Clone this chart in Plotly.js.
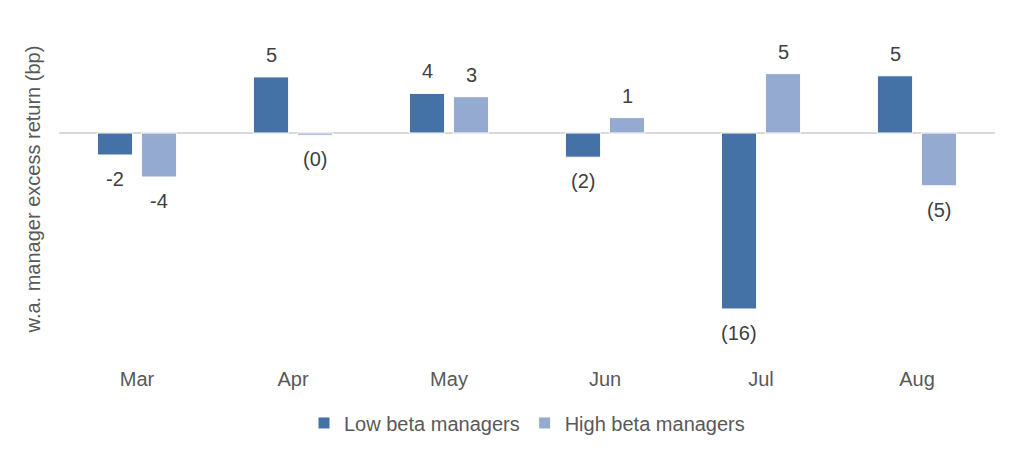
<!DOCTYPE html>
<html>
<head>
<meta charset="utf-8">
<script src="https://cdn.plot.ly/plotly-3.0.1.min.js"></script>
<style>html,body{margin:0;padding:0;background:#fff;}#chart{width:1024px;height:460px;}</style>
</head>
<body>
<div id="chart"></div>
<script>
const categories = ["Mar", "Apr", "May", "Jun", "Jul", "Aug"];
const lowBeta = [-2.0, 5.1, 3.6, -2.2, -16.0, 5.2];
const highBeta = [-4.0, -0.2, 3.3, 1.4, 5.4, -4.8];
const lowLabels = ["-2", "5", "4", "(2)", "(16)", "5"];
const highLabels = ["-4", "(0)", "3", "1", "5", "(5)"];
const seriesNames = ["Low beta managers", "High beta managers"];
const yTitle = "w.a. manager excess return (bp)";

const lowColor = "#4472A6";
const highColor = "#95AAD1";
const font = "Liberation Sans, Arial, sans-serif";

const traces = [
  {type: "bar", name: seriesNames[0], x: categories, y: lowBeta,
   marker: {color: lowColor, line: {color: "#ffffff", width: 1}}, hoverinfo: "skip"},
  {type: "bar", name: seriesNames[1], x: categories, y: highBeta,
   marker: {color: highColor, line: {color: "#ffffff", width: 1}}, hoverinfo: "skip"}
];

const annotations = [];
function addLabels(vals, labels, shift) {
  vals.forEach((v, i) => {
    annotations.push({
      x: categories[i], y: v, xref: "x", yref: "y", text: labels[i],
      showarrow: false, xshift: shift, yshift: v >= 0 ? 22 : -24,
      font: {family: font, size: 20, color: "#404040"}
    });
  });
}
addLabels(lowBeta, lowLabels, -22);
addLabels(highBeta, highLabels, 22);

annotations.push({
  xref: "paper", yref: "paper", x: -0.028, y: 0.495, xanchor: "center", yanchor: "middle",
  text: yTitle, textangle: -90, showarrow: false,
  font: {family: font, size: 20, color: "#595959"}
});

const layout = {
  width: 1024, height: 460,
  margin: {l: 59, r: 29, t: 23, b: 107},
  paper_bgcolor: "#ffffff", plot_bgcolor: "#ffffff",
  font: {family: font, size: 20, color: "#595959"},
  barmode: "group", bargap: 0.436, bargroupgap: 0.2,
  showlegend: true,
  legend: {orientation: "h", x: 0.5, xanchor: "center", y: -0.212, yanchor: "middle",
           itemwidth: 30, font: {family: font, size: 20, color: "#595959"}, traceorder: "normal"},
  xaxis: {type: "category", showgrid: false, showline: false, zeroline: false,
          ticks: "", tickfont: {family: font, size: 20, color: "#595959"}, ticklabelstandoff: 12},
  yaxis: {range: [-20, 10], showgrid: false, showticklabels: false, ticks: "",
          zeroline: true, zerolinecolor: "#D9D9D9", zerolinewidth: 1.5, showline: false},
  annotations: annotations
};

Plotly.newPlot("chart", traces, layout, {staticPlot: true, displayModeBar: false});
</script>
</body>
</html>
